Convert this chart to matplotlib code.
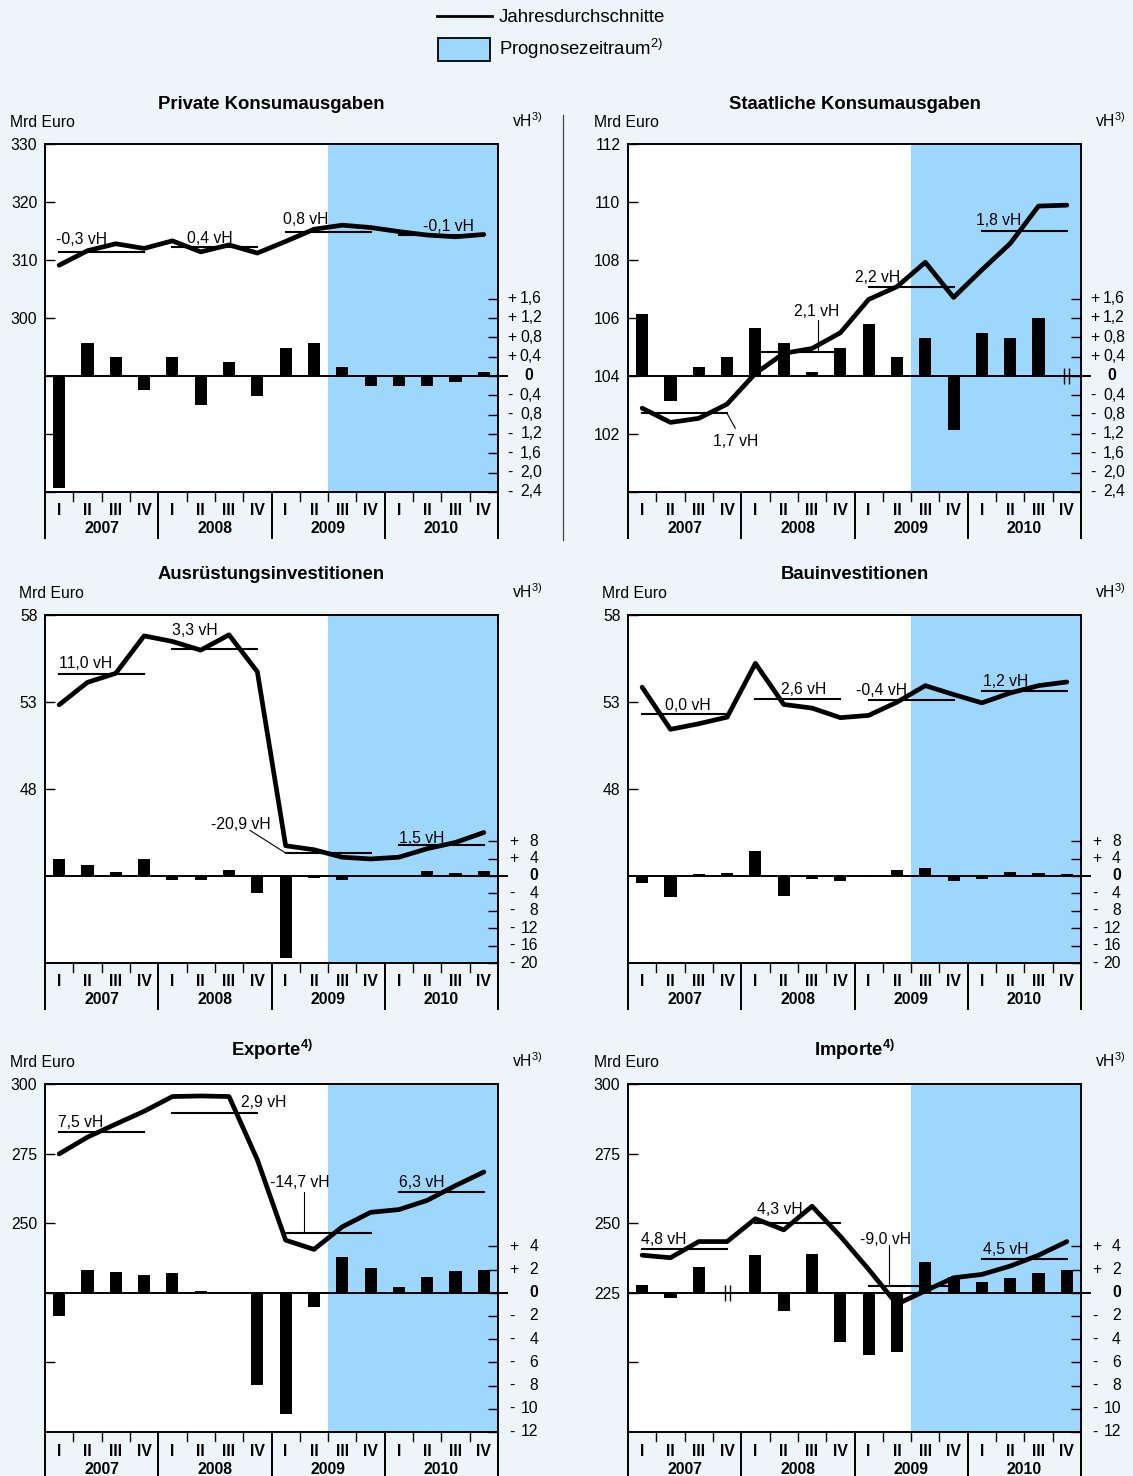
import matplotlib

matplotlib.use("Agg")
import matplotlib.pyplot as plt  # noqa: E402
import matplotlib.transforms as mtransforms  # noqa: E402
from matplotlib.lines import Line2D  # noqa: E402
from matplotlib.patches import Rectangle  # noqa: E402

nan = float("nan")

# --- data (Mrd Euro levels, vH change vs previous quarter, annual averages) ---
quarters = ["I", "II", "III", "IV"] * 4
years = ["2007", "2008", "2009", "2010"]

private_level = [309.1, 311.6, 312.8, 312.0, 313.3, 311.4, 312.6, 311.2,
                 313.2, 315.3, 316.0, 315.6, 314.9, 314.3, 314.0, 314.4]
private_growth = [-2.31, 0.68, 0.39, -0.30, 0.39, -0.61, 0.28, -0.41,
                  0.57, 0.68, 0.18, -0.20, -0.20, -0.20, -0.12, 0.08]
private_avg = [311.3, 312.2, 314.9, 314.3]
private_avg_text = ["-0,3 vH", "0,4 vH", "0,8 vH", "-0,1 vH"]

state_level = [102.89, 102.40, 102.54, 103.03, 104.09, 104.78, 104.95, 105.49,
               106.64, 107.08, 107.92, 106.71, 107.66, 108.57, 109.86, 109.89]
state_growth = [1.29, -0.51, 0.19, 0.39, 1.00, 0.68, 0.08, 0.58,
                1.08, 0.39, 0.78, -1.12, 0.89, 0.78, 1.20, nan]
state_avg = [102.71, 104.84, 107.08, 109.0]
state_avg_text = ["1,7 vH", "2,1 vH", "2,2 vH", "1,8 vH"]

equip_level = [52.84, 54.13, 54.65, 56.80, 56.48, 55.98, 56.86, 54.74,
               44.74, 44.51, 44.08, 43.98, 44.08, 44.57, 44.93, 45.50]
equip_growth = [3.85, 2.54, 0.92, 3.85, -0.92, -0.92, 1.30, -3.85,
                -18.85, -0.50, -1.00, 0.0, 0.0, 1.15, 0.70, 1.15]
equip_avg = [54.61, 56.02, 44.32, 44.76]
equip_avg_text = ["11,0 vH", "3,3 vH", "-20,9 vH", "1,5 vH"]

constr_level = [53.85, 51.43, 51.75, 52.13, 55.22, 52.86, 52.65, 52.10,
                52.23, 52.99, 53.94, 53.43, 52.95, 53.52, 53.94, 54.15]
constr_growth = [-1.54, -4.77, 0.46, 0.69, 5.77, -4.54, -0.60, -1.08,
                 0.23, 1.38, 1.92, -1.08, -0.77, 0.92, 0.69, 0.46]
constr_avg = [52.29, 53.20, 53.12, 53.66]
constr_avg_text = ["0,0 vH", "2,6 vH", "-0,4 vH", "1,2 vH"]

export_level = [274.9, 280.9, 285.6, 290.2, 295.5, 295.7, 295.5, 272.8,
                243.9, 240.6, 248.7, 253.9, 254.9, 258.2, 263.5, 268.4]
export_growth = [-2.00, 2.00, 1.80, 1.54, 1.71, 0.17, 0.0, -7.94,
                 -10.49, -1.23, 3.09, 2.17, 0.51, 1.37, 1.91, 2.00]
export_avg = [282.8, 289.6, 246.5, 261.2]
export_avg_text = ["7,5 vH", "2,9 vH", "-14,7 vH", "6,3 vH"]

import_level = [238.5, 237.6, 243.4, 243.4, 251.6, 247.6, 256.1, 245.3,
                233.4, 220.9, 225.7, 230.4, 231.6, 234.6, 238.5, 243.4]
import_growth = [0.63, -0.46, 2.26, nan, 3.29, -1.57, 3.37, -4.23,
                 -5.34, -5.09, 2.69, 1.40, 0.89, 1.31, 1.74, 2.00]
import_avg = [240.8, 250.2, 227.4, 237.0]
import_avg_text = ["4,8 vH", "4,3 vH", "-9,0 vH", "4,5 vH"]

# --- styling / layout ---
W, H = 1133, 1476
BG = "#edf5f9"
PROG = "#9dd7fe"
FS = 11.3

plt.rcParams["font.family"] = ["Liberation Sans", "DejaVu Sans"]
plt.rcParams["mathtext.fontset"] = "custom"
plt.rcParams["mathtext.rm"] = "Liberation Sans"
plt.rcParams["mathtext.bf"] = "Liberation Sans:bold"
plt.rcParams["mathtext.default"] = "rm"

dec_ticks = [-2.4, -2.0, -1.6, -1.2, -0.8, -0.4, 0, 0.4, 0.8, 1.2, 1.6]

panels = [
    dict(title="Private Konsumausgaben", box=(45, 144, 498, 492), title_dy=35,
         level=private_level, growth=private_growth, avg=private_avg, avg_text=private_avg_text,
         left=(270, 330), left_ticks=[270, 280, 290, 300, 310, 320, 330], left_labels=[300, 310, 320, 330],
         right=(-2.4, 4.8), right_ticks=dec_ticks, decimals=True,
         text_pos=[(0.39, 313.8), (5.02, 314.0), (8.41, 317.2), (13.34, 316.0)],
         leaders=[], brk=None, mrd_dx=35),
    dict(title="Staatliche Konsumausgaben", box=(628, 144, 1081, 492), title_dy=35,
         level=state_level, growth=state_growth, avg=state_avg, avg_text=state_avg_text,
         left=(100, 112), left_ticks=[100, 102, 104, 106, 108, 110, 112], left_labels=[102, 104, 106, 108, 110, 112],
         right=(-2.4, 4.8), right_ticks=dec_ticks, decimals=True,
         text_pos=[(2.99, 101.8), (5.87, 106.28), (8.02, 107.46), (12.29, 109.41)],
         leaders=[([3.5, 3.79], [102.71, 102.2]), ([6.7, 6.7], [105.93, 104.84])],
         brk=15.5, mrd_dx=34),
    dict(title="Ausrüstungsinvestitionen", box=(45, 615, 498, 963), title_dy=36,
         level=equip_level, growth=equip_growth, avg=equip_avg, avg_text=equip_avg_text,
         left=(38, 58), left_ticks=[48, 53, 58], left_labels=[48, 53, 58],
         right=(-20, 60), right_ticks=[-20, -16, -12, -8, -4, 0, 4, 8], decimals=False,
         text_pos=[(0.49, 55.28), (4.47, 57.19), (5.86, 46.04), (12.51, 45.27)],
         leaders=[([7.24, 8.5], [45.62, 44.32])], brk=None, mrd_dx=26),
    dict(title="Bauinvestitionen", box=(628, 615, 1081, 963), title_dy=36,
         level=constr_level, growth=constr_growth, avg=constr_avg, avg_text=constr_avg_text,
         left=(38, 58), left_ticks=[48, 53, 58], left_labels=[48, 53, 58],
         right=(-20, 60), right_ticks=[-20, -16, -12, -8, -4, 0, 4, 8], decimals=False,
         text_pos=[(1.31, 52.9), (5.41, 53.83), (8.06, 53.76), (12.54, 54.28)],
         leaders=[], brk=None, mrd_dx=26),
    dict(title=r"Exporte$^{\mathbf{4)}}$", box=(45, 1084, 498, 1432), title_dy=28,
         level=export_level, growth=export_growth, avg=export_avg, avg_text=export_avg_text,
         left=(175, 300), left_ticks=[200, 225, 250, 275, 300], left_labels=[250, 275, 300],
         right=(-12, 18), right_ticks=[-12, -10, -8, -6, -4, -2, 0, 2, 4], decimals=False,
         text_pos=[(0.46, 286.8), (6.93, 293.9), (7.94, 265.3), (12.51, 265.3)],
         leaders=[([9.14, 9.14], [261.3, 246.5])], brk=None, mrd_dx=35),
    dict(title=r"Importe$^{\mathbf{4)}}$", box=(628, 1084, 1081, 1432), title_dy=28,
         level=import_level, growth=import_growth, avg=import_avg, avg_text=import_avg_text,
         left=(175, 300), left_ticks=[200, 225, 250, 275, 300], left_labels=[225, 250, 275, 300],
         right=(-12, 18), right_ticks=[-12, -10, -8, -6, -4, -2, 0, 2, 4], decimals=False,
         text_pos=[(0.45, 244.7), (4.55, 255.5), (8.2, 244.7), (12.54, 241.1)],
         leaders=[([9.22, 9.22], [242.2, 227.4])], brk=3.5, mrd_dx=34),
]


def px_axes(fig, x0, y0, x1, y1):
    return fig.add_axes([x0 / W, 1 - y1 / H, (x1 - x0) / W, (y1 - y0) / H])


def fig_text(fig, x, y, s, **kw):
    fig.text(x / W, 1 - y / H, s, **kw)


def draw_panel(fig, p):
    x0, y0, x1, y1 = p["box"]
    ax = px_axes(fig, x0, y0, x1, y1)
    ax.set_facecolor("white")
    ax.set_xlim(0, 16)
    ax.set_ylim(*p["left"])
    ax.set_xticks([])
    ax.set_yticks(p["left_ticks"])
    ax.set_yticklabels([str(t) if t in p["left_labels"] else "" for t in p["left_ticks"]])
    ax.tick_params(axis="y", direction="in", length=7, width=1, labelsize=FS, pad=5.5,
                   right=False)
    for sp in ax.spines.values():
        sp.set_linewidth(1.4)

    ax.axvspan(10, 16, color=PROG, lw=0, zorder=0)

    ax2 = ax.twinx()
    ax2.set_ylim(*p["right"])
    ax2.set_xlim(0, 16)
    ax2.set_xticks([])
    ax2.set_yticks(p["right_ticks"])
    ax2.tick_params(axis="y", direction="in", length=7, width=1, labelright=False, left=False)
    for sp in ax2.spines.values():
        sp.set_visible(False)

    xs = [i + 0.5 for i in range(16)]
    bx = [x for x, g in zip(xs, p["growth"]) if g == g]
    bg = [g for g in p["growth"] if g == g]
    ax2.bar(bx, bg, width=0.43, color="black", zorder=2)
    ax2.axhline(0, xmin=0, xmax=1 + 9 / (x1 - x0), color="black", lw=1.4, clip_on=False, zorder=3)
    if p["brk"] is not None:
        ax2.plot([p["brk"] - 0.09, p["brk"] + 0.09], [0, 0], ls="none", marker="|",
                 ms=12, mew=1.0, color="black", zorder=4)

    # line series on top of bars
    ax2.plot(xs, [(v - p["left"][0]) / (p["left"][1] - p["left"][0]) * (p["right"][1] - p["right"][0]) + p["right"][0]
                  for v in p["level"]],
             color="black", lw=3.4, solid_capstyle="round", solid_joinstyle="round", zorder=5)
    scale = lambda v: (v - p["left"][0]) / (p["left"][1] - p["left"][0]) * (p["right"][1] - p["right"][0]) + p["right"][0]
    for k, a in enumerate(p["avg"]):
        ax2.plot([4 * k + 0.5, 4 * k + 3.5], [scale(a), scale(a)], color="black", lw=1.5, zorder=4)
    for (tx, ty), s in zip(p["text_pos"], p["avg_text"]):
        ax2.text(tx, scale(ty), s, ha="left", va="center_baseline", fontsize=FS, zorder=6)
    for lx, ly in p["leaders"]:
        ax2.plot(lx, [scale(v) for v in ly], color="black", lw=0.8, zorder=4)

    # right tick labels: sign column + right-aligned number
    base = ax2.get_yaxis_transform()
    if p["decimals"]:
        sign_dx, num_dx, zero_dx = 9, 44, 35
    else:
        sign_dx, num_dx, zero_dx = 11, 40, 40
    for v in p["right_ticks"]:
        if v == 0:
            tr = mtransforms.offset_copy(base, fig=fig, x=zero_dx, y=0, units="dots")
            ax2.text(1, 0, "0", transform=tr, ha="right", va="center", fontsize=FS, fontweight="bold")
            continue
        num = (f"{abs(v):.1f}".replace(".", ",")) if p["decimals"] else str(abs(int(v)))
        tr1 = mtransforms.offset_copy(base, fig=fig, x=sign_dx, y=0, units="dots")
        tr2 = mtransforms.offset_copy(base, fig=fig, x=num_dx, y=0, units="dots")
        ax2.text(1, v, "+" if v > 0 else "-", transform=tr1, ha="left", va="center", fontsize=FS)
        ax2.text(1, v, num, transform=tr2, ha="right", va="center", fontsize=FS)

    # category axis below the box
    cat = px_axes(fig, x0, y1, x1, y1 + 46)
    cat.set_xlim(0, 16)
    cat.set_ylim(46, 0)
    cat.axis("off")
    for s in range(17):
        if s % 4 == 0:
            cat.plot([s, s], [0, 46], color="black", lw=1.4, clip_on=False)
        else:
            cat.plot([s, s], [0, 9], color="black", lw=1.0, clip_on=False)
    for i, q in enumerate(quarters):
        cat.text(i + 0.5, 19, q, ha="center", va="center", fontsize=FS, fontweight="bold")
    for k, yr in enumerate(years):
        cat.text(4 * k + 2, 37, yr, ha="center", va="center", fontsize=FS, fontweight="bold")

    # titles and unit labels
    fig_text(fig, (x0 + x1) / 2, y0 - p["title_dy"], p["title"], ha="center", va="baseline",
             fontsize=13.3, fontweight="bold")
    fig_text(fig, x0 - p["mrd_dx"], y0 - 17, "Mrd Euro", ha="left", va="baseline", fontsize=FS)
    fig_text(fig, x1 + 45, y0 - 17, r"vH$^{3)}$", ha="right", va="baseline", fontsize=FS)


def main() -> None:
    fig = plt.figure(figsize=(W / 100, H / 100), dpi=100)
    fig.patch.set_facecolor(BG)

    # legend
    fig.add_artist(Line2D([437 / W, 492 / W], [1 - 15.5 / H, 1 - 15.5 / H],
                          transform=fig.transFigure, color="black", lw=2))
    fig_text(fig, 499, 22, "Jahresdurchschnitte", ha="left", va="baseline", fontsize=13.4)
    fig.add_artist(Rectangle((438 / W, 1 - 60.5 / H), 52 / W, 22 / H, transform=fig.transFigure,
                             facecolor=PROG, edgecolor="black", lw=1.3))
    fig_text(fig, 499, 55, r"Prognosezeitraum$^{2)}$", ha="left", va="baseline", fontsize=13.4)

    # divider between top panels
    fig.add_artist(Line2D([563 / W, 563 / W], [1 - 115 / H, 1 - 540 / H],
                          transform=fig.transFigure, color="#444444", lw=0.9))

    for p in panels:
        draw_panel(fig, p)

    fig.savefig("out.png", dpi=100, facecolor=BG)


if __name__ == "__main__":
    main()
